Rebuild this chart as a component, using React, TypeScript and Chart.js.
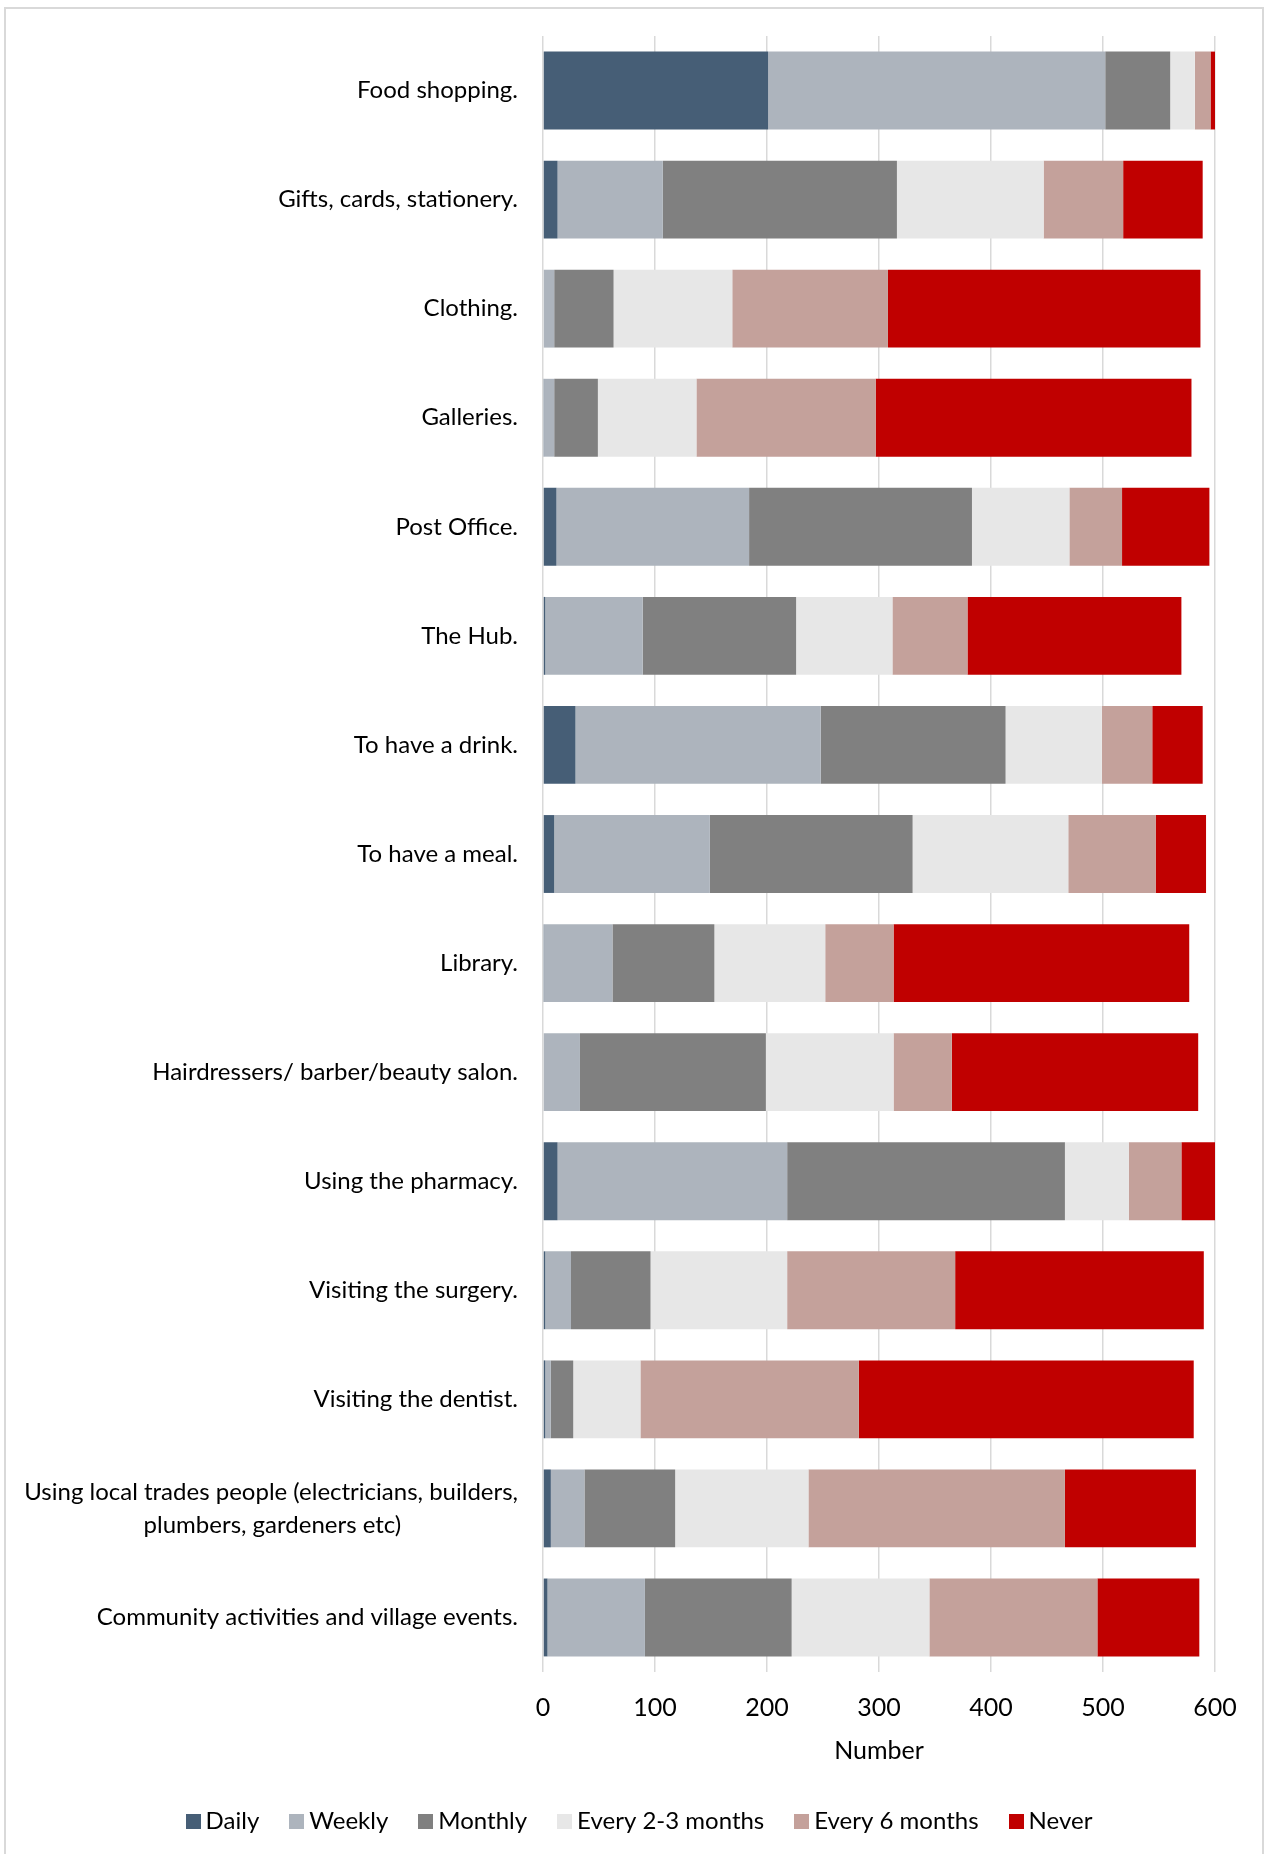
import React, { useEffect, useRef } from "react";
import { Chart, registerables } from "chart.js";

Chart.register(...registerables);

const categories: (string | string[])[] = [
  "Food shopping.",
  "Gifts, cards, stationery.",
  "Clothing.",
  "Galleries.",
  "Post Office.",
  "The Hub.",
  "To have a drink.",
  "To have a meal.",
  "Library.",
  "Hairdressers/ barber/beauty salon.",
  "Using the pharmacy.",
  "Visiting the surgery.",
  "Visiting the dentist.",
  ["Using local trades people (electricians, builders,", "plumbers, gardeners etc)"],
  "Community activities and village events.",
];

const seriesNames = ["Daily", "Weekly", "Monthly", "Every 2-3 months", "Every 6 months", "Never"];
const daily = [201, 13, 0, 1, 12, 2, 29, 10, 1, 0, 13, 2, 2, 7, 4];
const weekly = [301, 94, 10, 9, 172, 87, 219, 139, 61, 33, 205, 23, 5, 30, 87];
const monthly = [58, 209, 53, 39, 199, 137, 165, 181, 91, 166, 248, 71, 20, 81, 131];
const every23 = [22, 131, 106, 88, 87, 86, 86, 139, 99, 114, 57, 122, 60, 119, 123];
const every6 = [14, 71, 139, 160, 47, 67, 45, 78, 61, 52, 47, 150, 195, 229, 150];
const never = [6, 71, 279, 282, 78, 191, 45, 45, 264, 220, 30, 222, 299, 117, 91];
const seriesColors = ["#465E76", "#ADB4BD", "#808080", "#E7E7E7", "#C4A19B", "#C00000"];

const xMin = 0;
const xMax = 600;
const xStep = 100;
const xTitle = "Number";

const FONT = "Lato";
const LABEL_SIZE = 24;
const LEGEND_BOX = 15;

export default function App() {
  const ref = useRef<HTMLCanvasElement | null>(null);

  useEffect(() => {
    const canvas = ref.current;
    if (!canvas) return;
    const values = [daily, weekly, monthly, every23, every6, never];

    const mctx = document.createElement("canvas").getContext("2d")!;
    mctx.font = `${LABEL_SIZE}px ${FONT}`;
    const spaceW = mctx.measureText(" ").width || 5;
    const centerLines = (lab: string | string[]) => {
      if (!Array.isArray(lab)) return lab;
      const widths = lab.map((l) => mctx.measureText(l).width);
      const maxW = Math.max(...widths);
      return lab.map((l, i) => l + " ".repeat(Math.round((maxW - widths[i]) / 2 / spaceW)));
    };

    // square legend swatches
    const swatches = seriesColors.map((c) => {
      const cv = document.createElement("canvas");
      cv.width = LEGEND_BOX;
      cv.height = LEGEND_BOX;
      const g = cv.getContext("2d")!;
      g.fillStyle = c;
      g.fillRect(0, 0, LEGEND_BOX, LEGEND_BOX);
      return cv;
    });

    const legendShift = {
      id: "legendShift",
      afterLayout(chart: any) {
        const l = chart.legend;
        if (l) {
          l.left += 32;
          l.right += 32;
        }
      },
    };

    const chart = new Chart(canvas, {
      type: "bar",
      data: {
        labels: categories,
        datasets: seriesNames.map((name, i) => ({
          label: name,
          data: values[i],
          backgroundColor: seriesColors[i],
          borderWidth: 0,
          categoryPercentage: 1,
          barPercentage: 0.714,
        })),
      },
      plugins: [legendShift],
      options: {
        indexAxis: "y",
        responsive: false,
        animation: false,
        devicePixelRatio: 1,
        layout: { padding: { top: 27, right: 46, bottom: 11, left: 0 } },
        scales: {
          x: {
            stacked: true,
            min: xMin,
            max: xMax,
            grid: { color: "#D9D9D9", lineWidth: 1.5, drawTicks: false },
            border: { display: false },
            ticks: {
              stepSize: xStep,
              padding: 21,
              color: "#000",
              font: { family: FONT, size: 25 },
            },
            title: {
              display: true,
              text: xTitle,
              color: "#000",
              font: { family: FONT, size: 25 },
              padding: { top: 0, bottom: 6 },
            },
            afterFit: (s: any) => {
              s.height = 100;
            },
          },
          y: {
            stacked: true,
            grid: { display: false, drawTicks: true, tickLength: 25 },
            border: { display: false },
            ticks: {
              padding: 0,
              color: "#000",
              font: { family: FONT, size: LABEL_SIZE, lineHeight: 1.38 },
              autoSkip: false,
              callback: (_v: any, idx: number) => centerLines(categories[idx]),
            },
            afterFit: (s: any) => {
              s.width = 537;
            },
          },
        },
        plugins: {
          legend: {
            position: "bottom",
            labels: {
              usePointStyle: true,
              pointStyleWidth: 1,
              boxHeight: LEGEND_BOX,
              padding: 37,
              color: "#000",
              font: { family: FONT, size: 24 },
              generateLabels: (ch: any) =>
                (Chart.defaults as any).plugins.legend.labels
                  .generateLabels(ch)
                  .map((it: any) => ({ ...it, pointStyle: swatches[it.datasetIndex] })),
            },
          },
          tooltip: { enabled: false },
        },
      },
    } as any);
    return () => chart.destroy();
  }, []);

  return (
    <div
      style={{
        position: "absolute",
        left: 0,
        top: 0,
        width: 1266,
        height: 1854,
        overflow: "hidden",
        background: "#fff",
      }}
    >
      <div
        style={{
          position: "absolute",
          left: 4,
          top: 7,
          width: 1260,
          height: 1854,
          border: "2px solid #D9D9D9",
          boxSizing: "border-box",
        }}
      />
      <canvas
        ref={ref}
        width={1255}
        height={1845}
        style={{ position: "absolute", left: 6, top: 9, width: 1255, height: 1845 }}
      />
    </div>
  );
}
